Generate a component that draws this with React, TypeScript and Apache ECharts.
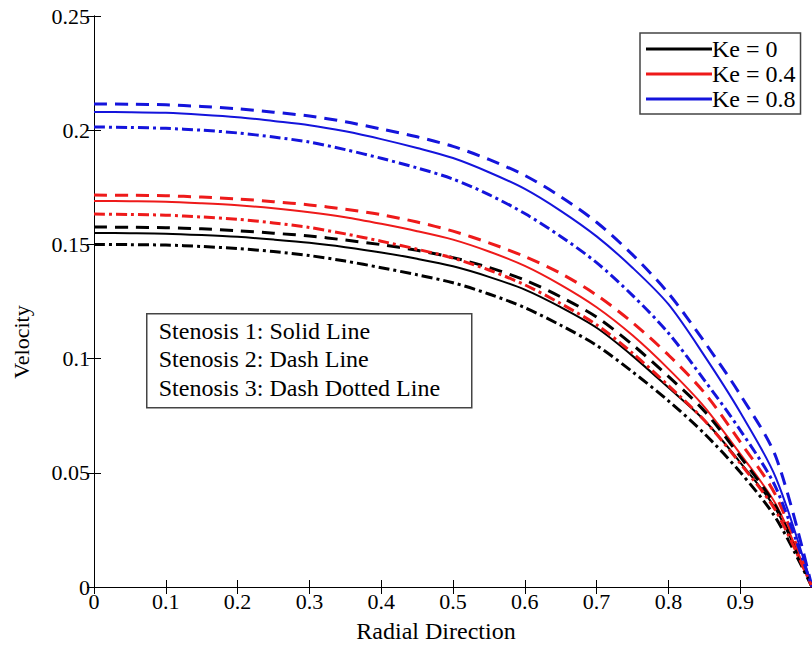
import React, { useEffect, useRef } from "react";
import * as echarts from "echarts";

const FONT = "'Liberation Serif', 'Times New Roman', serif";

const radial = [0, 0.05, 0.1, 0.15, 0.2, 0.25, 0.3, 0.35, 0.4, 0.45, 0.5, 0.55, 0.6, 0.65, 0.7, 0.75, 0.8, 0.85, 0.9, 0.95, 1];

// Ke = 0.8 (blue)
const blueSolid = [0.208, 0.2079, 0.2076, 0.2068, 0.2057, 0.204, 0.2022, 0.1995, 0.1961, 0.1922, 0.1878, 0.1816, 0.1743, 0.1647, 0.1535, 0.1398, 0.1238, 0.1013, 0.0765, 0.0476, 0];
const blueDash = [0.2115, 0.2114, 0.2111, 0.2104, 0.2094, 0.2079, 0.2062, 0.2037, 0.2005, 0.1971, 0.1929, 0.1872, 0.1802, 0.1709, 0.1597, 0.1455, 0.1286, 0.1074, 0.0842, 0.0567, 0];
const blueDashDot = [0.2014, 0.2012, 0.2008, 0.2, 0.1988, 0.197, 0.1948, 0.1915, 0.1877, 0.1835, 0.1786, 0.1718, 0.1635, 0.1535, 0.142, 0.1277, 0.1112, 0.0906, 0.0687, 0.0433, 0];
// Ke = 0.4 (red)
const redSolid = [0.169, 0.1689, 0.1687, 0.168, 0.1671, 0.1658, 0.1641, 0.1619, 0.159, 0.1558, 0.1521, 0.1469, 0.1406, 0.1323, 0.1225, 0.1102, 0.0955, 0.0789, 0.0583, 0.036, 0];
const redDash = [0.1716, 0.1715, 0.1713, 0.1707, 0.1699, 0.1687, 0.1673, 0.1654, 0.163, 0.1598, 0.1558, 0.1507, 0.1447, 0.1373, 0.1278, 0.1158, 0.1016, 0.0851, 0.0635, 0.0398, 0];
const redDashDot = [0.1633, 0.1631, 0.1628, 0.162, 0.161, 0.1594, 0.1574, 0.1546, 0.1514, 0.1479, 0.144, 0.1388, 0.1323, 0.1241, 0.1148, 0.1024, 0.0882, 0.073, 0.0541, 0.0331, 0];
// Ke = 0 (black)
const blackSolid = [0.155, 0.1549, 0.1547, 0.1541, 0.1533, 0.1521, 0.1507, 0.1488, 0.1465, 0.1437, 0.1404, 0.1358, 0.1302, 0.1225, 0.1135, 0.1012, 0.0873, 0.073, 0.0546, 0.0338, 0];
const blackDash = [0.1576, 0.1575, 0.1573, 0.1568, 0.156, 0.1549, 0.1537, 0.1519, 0.1499, 0.1474, 0.1442, 0.1399, 0.1344, 0.127, 0.1182, 0.1061, 0.0922, 0.0771, 0.0571, 0.035, 0];
const blackDashDot = [0.15, 0.1499, 0.1497, 0.1491, 0.1482, 0.1469, 0.1451, 0.1427, 0.1398, 0.1367, 0.1332, 0.1283, 0.1223, 0.1146, 0.1058, 0.0942, 0.0815, 0.0672, 0.0503, 0.03, 0];

const legendNames = ["Ke = 0", "Ke = 0.4", "Ke = 0.8"];
const noteLines = ["Stenosis 1: Solid Line", "Stenosis 2: Dash Line", "Stenosis 3: Dash Dotted Line"];

const BLACK = "#000000";
const RED = "#ee1a1a";
const BLUE = "#1414dc";

const DASH = [13, 8];
const DASHDOT = [11, 4, 3, 4];

function mk(name: string, vals: number[], color: string, type: any, width: number) {
  return {
    name,
    type: "line",
    data: radial.map((r, i) => [r, vals[i]]),
    smooth: 0.3,
    symbol: "none",
    showSymbol: false,
    lineStyle: { color, type, width },
    itemStyle: { color },
    xAxisIndex: 0,
    yAxisIndex: 0,
  };
}

export default function App() {
  const ref = useRef<HTMLDivElement>(null);
  useEffect(() => {
    const chart = echarts.init(ref.current!, null, { renderer: "svg" });
    const axisLine = { show: true, lineStyle: { color: "#000", width: 1 } };
    const tick = { show: true, inside: true, length: 7, lineStyle: { color: "#000", width: 1 } };
    chart.setOption({
      animation: false,
      backgroundColor: "#ffffff",
      grid: { left: 94, top: 16, width: 723, height: 571, containLabel: false },
      xAxis: [
        {
          type: "value",
          min: 0,
          max: 1,
          interval: 0.1,
          position: "bottom",
          axisLine,
          axisTick: tick,
          splitLine: { show: false },
          axisLabel: {
            show: true,
            margin: 3,
            color: "#000",
            fontFamily: FONT,
            fontSize: 22,
            showMaxLabel: false,
          },
        },
        {
          type: "value",
          min: 0,
          max: 1,
          interval: 0.1,
          position: "top",
          axisLine,
          axisTick: tick,
          splitLine: { show: false },
          axisLabel: { show: false },
        },
      ],
      yAxis: [
        {
          type: "value",
          min: 0,
          max: 0.25,
          interval: 0.05,
          position: "left",
          axisLine,
          axisTick: tick,
          splitLine: { show: false },
          axisLabel: { show: true, margin: 4, color: "#000", fontFamily: FONT, fontSize: 22 },
        },
        {
          type: "value",
          min: 0,
          max: 0.25,
          interval: 0.05,
          position: "right",
          axisLine,
          axisTick: tick,
          splitLine: { show: false },
          axisLabel: { show: false },
        },
      ],
      legend: {
        data: legendNames,
        orient: "vertical",
        left: 640,
        top: 33,
        icon: "rect",
        itemWidth: 66,
        itemHeight: 3,
        itemGap: 1,
        padding: [4, 5, 3, 6],
        borderColor: "#444",
        borderWidth: 1.5,
        borderRadius: 0,
        backgroundColor: "#ffffff",
        itemStyle: { borderWidth: 0 },
        lineStyle: { width: 0 },
        textStyle: {
          fontFamily: FONT,
          fontSize: 24,
          lineHeight: 24,
          color: "#000",
          padding: [0, 0, 0, -5],
        },
        selectedMode: false,
      },
      series: [
        mk("Ke = 0", blackSolid, BLACK, "solid", 2),
        mk("Ke = 0.4", redSolid, RED, "solid", 2),
        mk("Ke = 0.8", blueSolid, BLUE, "solid", 2),
        mk("Ke = 0", blackDash, BLACK, DASH, 3),
        mk("Ke = 0.4", redDash, RED, DASH, 3),
        mk("Ke = 0.8", blueDash, BLUE, DASH, 3),
        mk("Ke = 0", blackDashDot, BLACK, DASHDOT, 3),
        mk("Ke = 0.4", redDashDot, RED, DASHDOT, 3),
        mk("Ke = 0.8", blueDashDot, BLUE, DASHDOT, 3),
      ],
      graphic: [
        {
          type: "text",
          x: 436,
          y: 631,
          style: {
            text: "Radial Direction",
            fontFamily: FONT,
            fontSize: 24,
            fill: "#000",
            align: "center",
            verticalAlign: "middle",
          },
        },
        {
          type: "text",
          x: 21,
          y: 342,
          rotation: Math.PI / 2,
          style: {
            text: "Velocity",
            fontFamily: FONT,
            fontSize: 22,
            fill: "#000",
            align: "center",
            verticalAlign: "middle",
          },
        },
        {
          type: "group",
          left: 146,
          top: 313,
          children: [
            {
              type: "rect",
              shape: { x: 0, y: 0, width: 325, height: 94 },
              style: { fill: "#ffffff", stroke: "#444", lineWidth: 1.5 },
            },
            ...noteLines.map((t, i) => ({
              type: "text",
              x: 12,
              y: 17 + i * 28.5,
              style: {
                text: t,
                fontFamily: FONT,
                fontSize: 24,
                fill: "#000",
                verticalAlign: "middle",
              },
            })),
          ],
        },
      ],
    });
    return () => chart.dispose();
  }, []);
  return (
    <div
      ref={ref}
      style={{ position: "fixed", left: 0, top: 0, width: 812, height: 653, background: "#fff" }}
    />
  );
}
